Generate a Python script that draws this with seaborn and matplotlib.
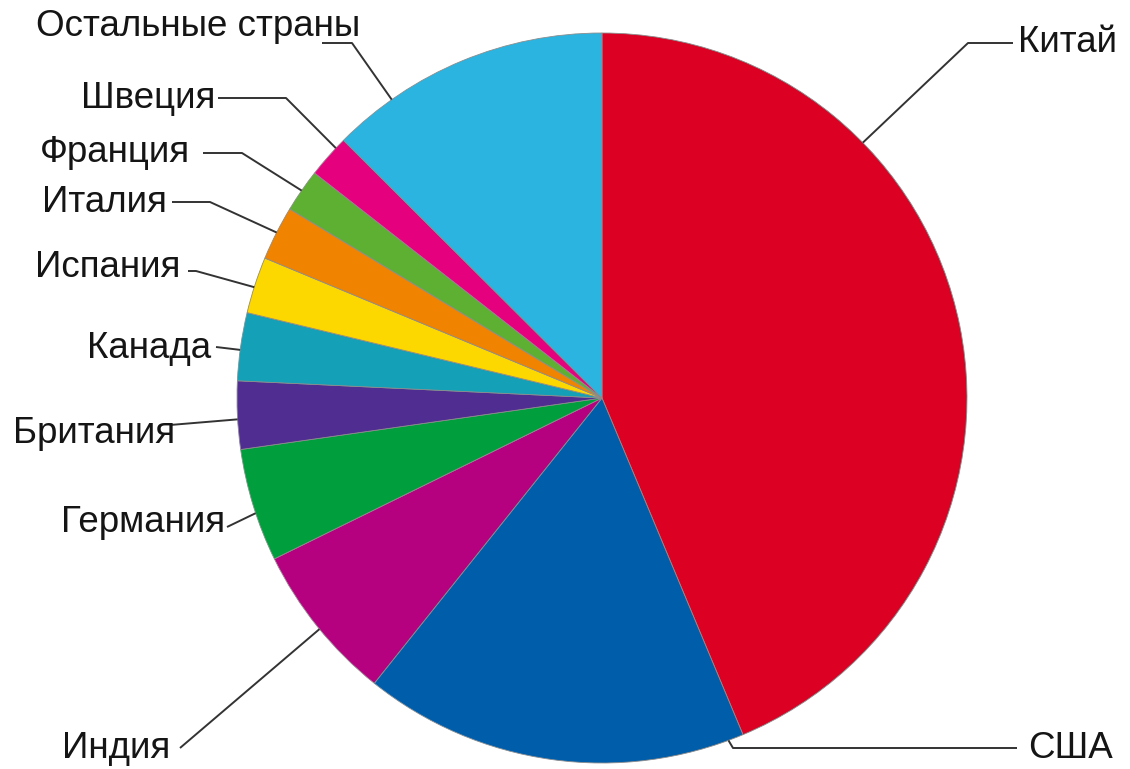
import numpy as np
import matplotlib
matplotlib.use("Agg")
import matplotlib.pyplot as plt
import seaborn as sns

# Shares by country, clockwise from the top of the pie
countries = ["Китай", "США", "Индия", "Германия", "Британия", "Канада",
             "Испания", "Италия", "Франция", "Швеция", "Остальные страны"]
shares = [43.6, 17.0, 7.0, 5.0, 3.0, 3.0, 2.5, 2.4, 1.9, 1.9, 12.5]
colors = ["#DC0023", "#005DAA", "#B5007F", "#009E3D", "#4F2D91", "#14A0B6",
          "#FDD700", "#F08300", "#5DB031", "#E5007D", "#2BB4E0"]

# Where along each wedge (0 = leading edge, 1 = trailing edge) its leader line lands
anchor_pos = [0.29, 0.04, 0.48, 0.43, 0.44, 0.45, 0.46, 0.51, 0.50, 0.75, 0.22]

sns.set_theme(style="white")
plt.rcParams["font.family"] = ["Liberation Sans", "DejaVu Sans"]

W, H = 1130, 769
fig = plt.figure(figsize=(W / 100, H / 100), dpi=100)
ax = fig.add_axes([0, 0, 1, 1])

cx, cy, r = 602, 398, 365
ax.pie(shares, colors=colors, startangle=-90, counterclock=True,
       center=(cx, cy), radius=r,
       wedgeprops=dict(edgecolor="#8c8c8c", linewidth=0.6))

ax.set_xlim(0, W)
ax.set_ylim(H, 0)
ax.set_aspect("equal")
ax.axis("off")

# Anchor points on the rim, from the cumulative wedge angles
total = float(np.sum(shares))
starts = np.concatenate([[0.0], np.cumsum(shares)[:-1]]) / total * 360.0
spans = np.array(shares) / total * 360.0
anchors = []
for s, d, f in zip(starts, spans, anchor_pos):
    theta = np.deg2rad(-90.0 + s + f * d)
    anchors.append((cx + r * np.cos(theta), cy + r * np.sin(theta)))

# Label text position, alignment and the leader's elbow points
labels_layout = {
    "Китай":            dict(xy=(1018, 52), ha="left",  path=[(1013, 43), (968, 43)]),
    "США":              dict(xy=(1028, 758), ha="left", path=[(1017, 748), (733, 748)]),
    "Индия":            dict(xy=(170, 758), ha="right", path=[(180, 748)]),
    "Германия":         dict(xy=(225, 532), ha="right", path=[(227, 527)]),
    "Британия":         dict(xy=(175, 443), ha="right", path=[(170, 425)]),
    "Канада":           dict(xy=(211, 358), ha="right", path=[(216, 347)]),
    "Испания":          dict(xy=(180, 277), ha="right", path=[(188, 271), (196, 271)]),
    "Италия":           dict(xy=(167, 212), ha="right", path=[(172, 202), (210, 202)]),
    "Франция":          dict(xy=(190, 162), ha="right", path=[(203, 153), (242, 153)]),
    "Швеция":           dict(xy=(215, 108), ha="right", path=[(218, 98), (286, 98)]),
    "Остальные страны": dict(xy=(360, 36), ha="right", path=[(322, 43), (352, 43)]),
}

for name, anchor in zip(countries, anchors):
    spec = labels_layout[name]
    pts = spec["path"] + [anchor]
    xs, ys = zip(*pts)
    ax.plot(xs, ys, color="#333333", lw=1.4, solid_capstyle="butt", zorder=1)
    ax.text(spec["xy"][0], spec["xy"][1], name, ha=spec["ha"], va="baseline",
            fontsize=26.5, color="#151515", zorder=3)

fig.savefig("out.png", dpi=100, facecolor="white")
